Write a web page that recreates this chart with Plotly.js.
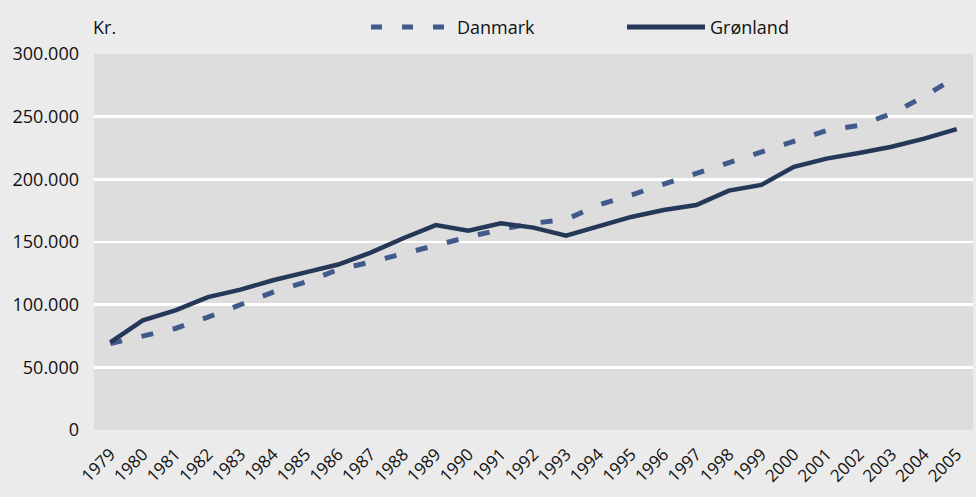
<!DOCTYPE html>
<html>
<head>
<meta charset="utf-8">
<script src="https://cdn.plot.ly/plotly-3.0.1.min.js"></script>
<style>html,body{margin:0;padding:0;background:#ebebeb;}#chart{width:976px;height:497px;}</style>
</head>
<body>
<div id="chart"></div>
<script>
const years = ["1979","1980","1981","1982","1983","1984","1985","1986","1987","1988","1989","1990","1991","1992","1993","1994","1995","1996","1997","1998","1999","2000","2001","2002","2003","2004","2005"];
const danmark = [69000,74500,81000,90000,100000,110000,118000,128000,134000,141000,147500,154000,160000,165000,168000,179500,187500,196000,205000,212500,221000,230000,239000,243000,252500,266000,282000];
const gronland = [70000,87500,95500,106000,112000,119500,125800,132000,141500,153000,163500,159000,165000,161500,155000,162500,170000,175500,179500,191000,195500,210000,216500,221000,226000,232500,240000];
const yTicks = [0,50000,100000,150000,200000,250000,300000];
const yTickText = ["0","50.000","100.000","150.000","200.000","250.000","300.000"];

const cDk = "#41598b";
const cGl = "#253858";
const fontFam = "'Open Sans', 'DejaVu Sans', sans-serif";

const traces = [
  {x: years, y: danmark, name: "Danmark", type: "scatter", mode: "lines",
   line: {color: cDk, width: 5, dash: "12px,20px"}, showlegend: false, hoverinfo: "x+y"},
  {x: years, y: gronland, name: "Grønland", type: "scatter", mode: "lines",
   line: {color: cGl, width: 4.5}, showlegend: false, hoverinfo: "x+y"}
];

const L = 94, W = 879, B = 430, H = 376;
const px = v => (v - L) / W;
const py = v => (B - v) / H;

const layout = {
  width: 976, height: 497,
  margin: {l: L, r: 976 - L - W, t: B - H, b: 497 - B, pad: 0},
  paper_bgcolor: "#ebebeb",
  plot_bgcolor: "#dddddd",
  font: {family: fontFam, size: 18, color: "#111"},
  xaxis: {type: "category", range: [-0.5, 26.5], showgrid: false, zeroline: false,
          showline: false, ticks: "", tickangle: -45, ticklabelstandoff: 10,
          tickfont: {size: 17, family: fontFam, color: "#111"}},
  yaxis: {range: [0, 300000], tickvals: yTicks, ticktext: yTickText, showgrid: true,
          gridcolor: "#ffffff", gridwidth: 2.5, zeroline: false, showline: false, ticks: "",
          ticklabelstandoff: 14, tickfont: {size: 18, family: fontFam, color: "#111"}},
  shapes: [
    {type: "line", xref: "paper", yref: "paper", x0: px(371), x1: px(445), y0: py(27), y1: py(27),
     line: {color: cDk, width: 5, dash: "11px,20px"}},
    {type: "line", xref: "paper", yref: "paper", x0: px(627), x1: px(705), y0: py(27), y1: py(27),
     line: {color: cGl, width: 5}}
  ],
  annotations: [
    {text: "Kr.", xref: "paper", yref: "paper", x: px(91), y: py(27), xanchor: "left", yanchor: "middle",
     showarrow: false, font: {size: 18, family: fontFam, color: "#111"}},
    {text: "Danmark", xref: "paper", yref: "paper", x: px(455), y: py(27), xanchor: "left", yanchor: "middle",
     showarrow: false, font: {size: 18, family: fontFam, color: "#111"}},
    {text: "Grønland", xref: "paper", yref: "paper", x: px(708), y: py(27), xanchor: "left", yanchor: "middle",
     showarrow: false, font: {size: 18, family: fontFam, color: "#111"}}
  ]
};

Plotly.newPlot("chart", traces, layout, {displayModeBar: false, staticPlot: true});
</script>
</body>
</html>
